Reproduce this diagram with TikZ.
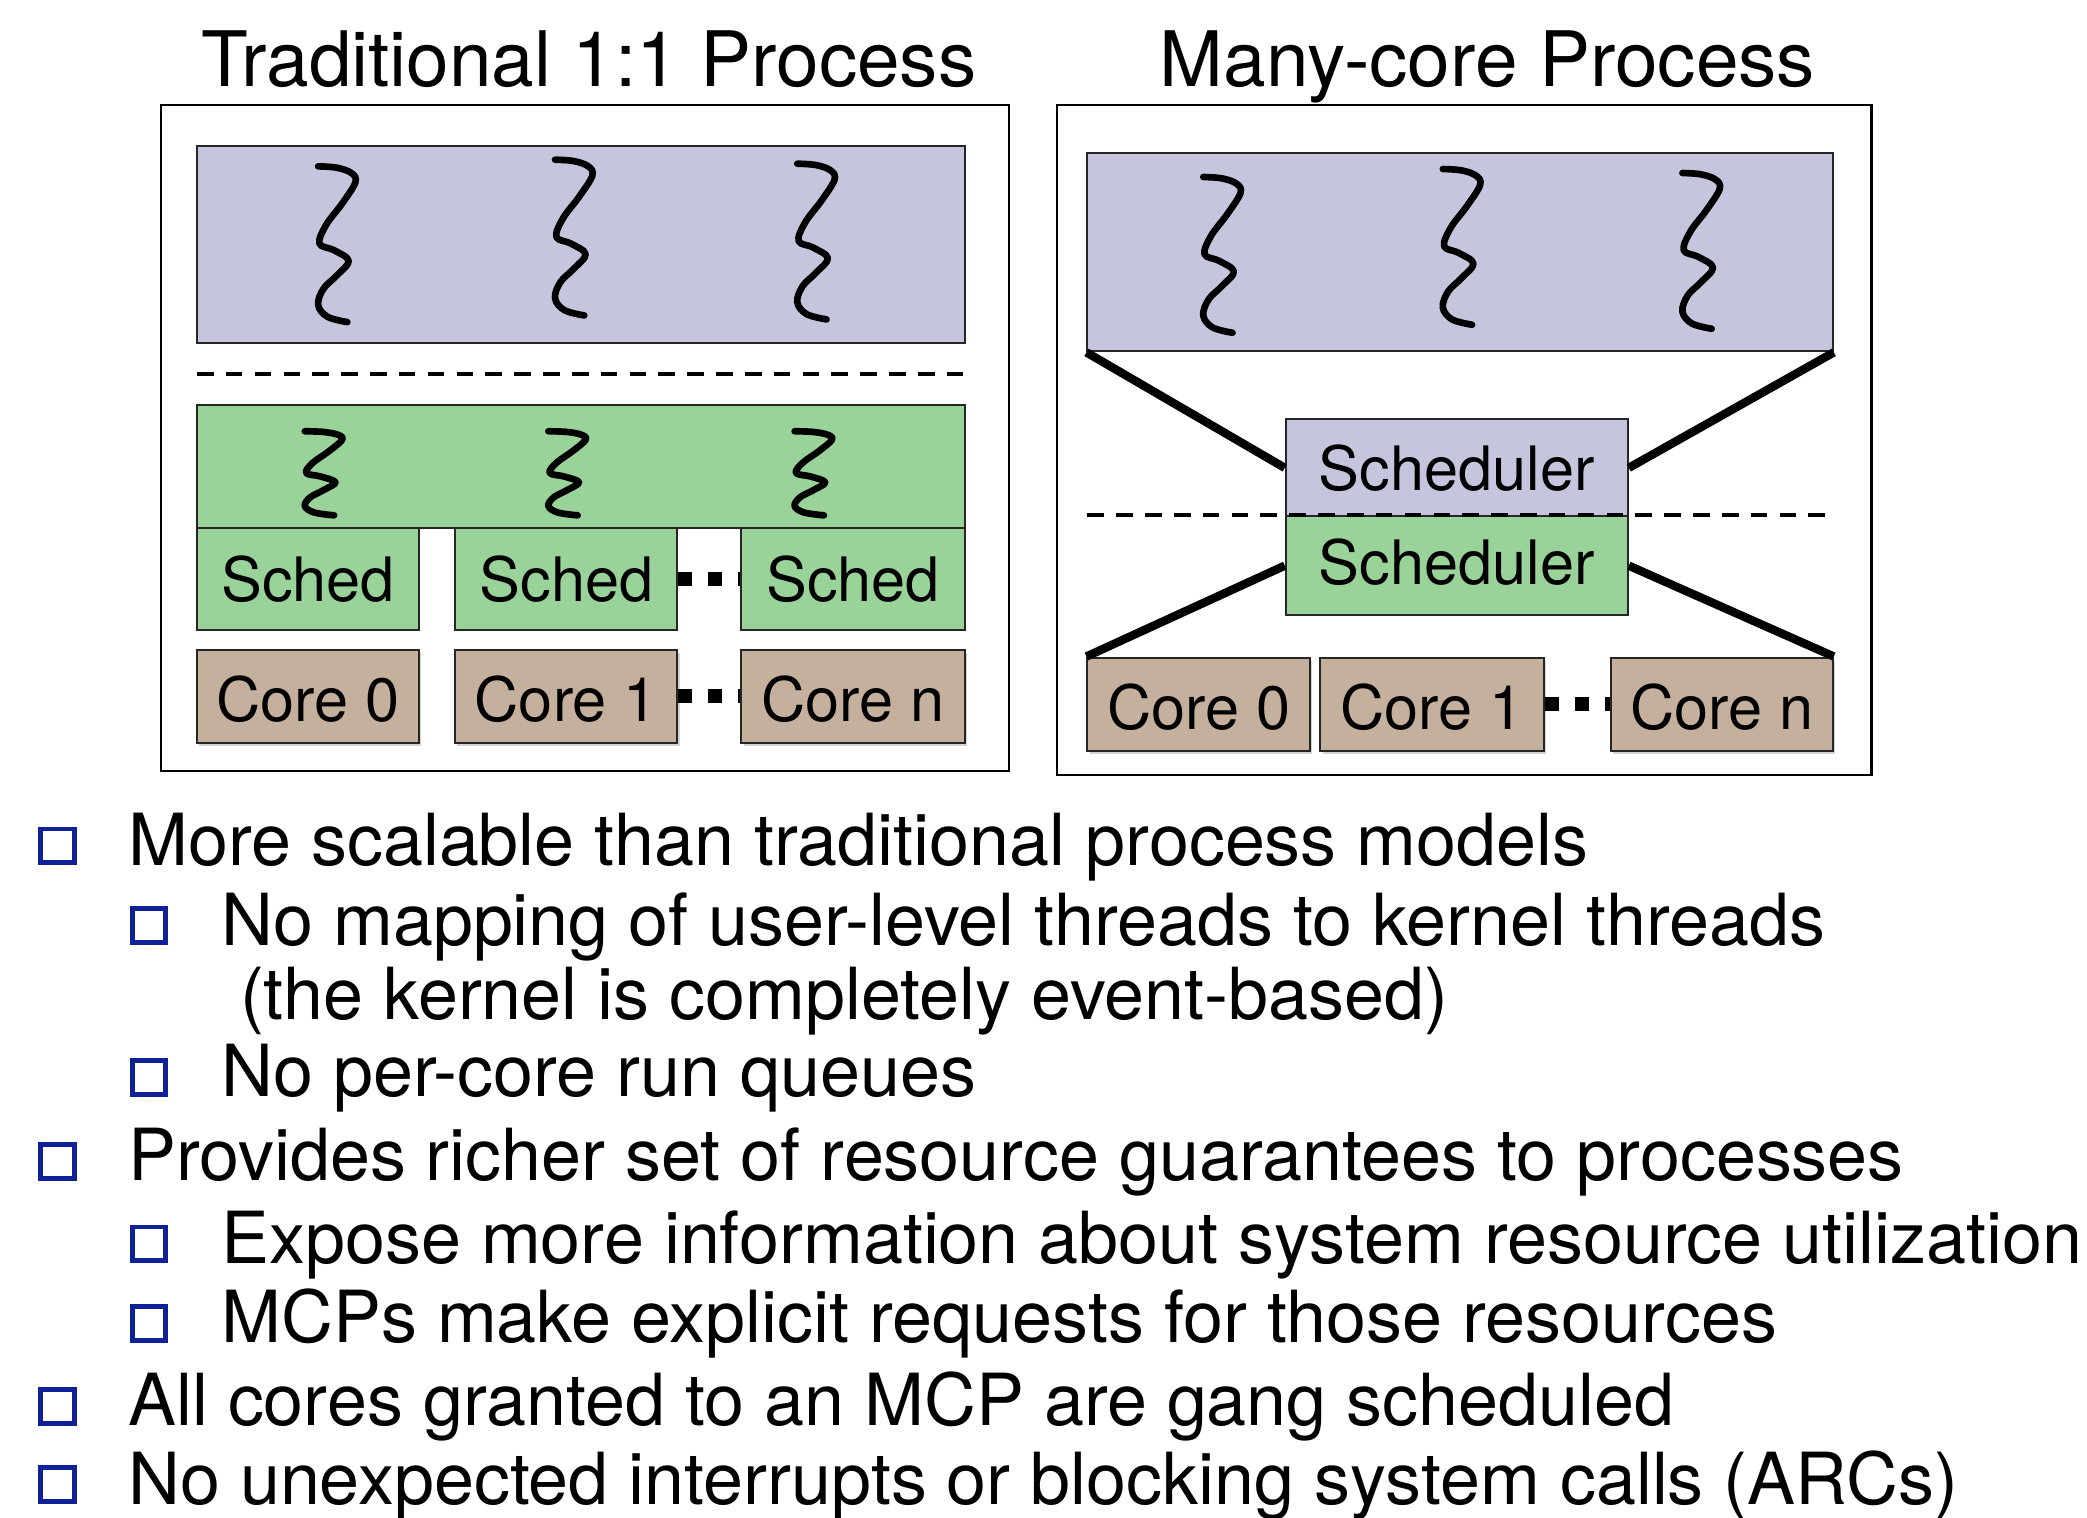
\documentclass[tikz,border=0pt]{standalone}
\usepackage{fontspec}
\setmainfont{TeX Gyre Heros}
\usetikzlibrary{fit,shadows}
\definecolor{upurple}{RGB}{197,198,221}
\definecolor{kgreen}{RGB}{153,211,153}
\definecolor{coretan}{RGB}{196,176,156}
\definecolor{bulletblue}{RGB}{16,32,150}
\tikzset{
  outerbox/.style={draw=black, line width=1pt, inner sep=0pt},
  ubox/.style={draw=black!85, line width=0.9pt, fill=upurple, inner sep=0pt},
  gbox/.style={draw=black!85, line width=0.9pt, fill=kgreen, inner sep=0pt},
  corebox/.style={draw=black!85, line width=0.9pt, fill=coretan, inner sep=0pt,
     drop shadow={shadow xshift=1pt, shadow yshift=-1.5pt, opacity=0.35}},
  boxlabel/.style={font=\fontsize{27.6pt}{30pt}\selectfont, inner sep=0pt},
  titletext/.style={font=\fontsize{34.5pt}{38pt}\selectfont, inner sep=0pt, anchor=base},
  btext/.style={font=\fontsize{32.4pt}{36pt}\selectfont, inner sep=0pt, anchor=base west},
  bsq/.style={draw=bulletblue, line width=2.2pt, minimum size=15.2pt, inner sep=0pt},
  thickline/.style={line width=3.8pt, black},
  dashline/.style={line width=1.7pt, black, dash pattern=on 7.5pt off 5.5pt},
  sqdots/.style={line width=6pt, black, dash pattern=on 6.3pt off 7.2pt},
  threadline/.style={line width=3pt, black, line cap=round, line join=round},
  thread/.pic={\draw[threadline] plot[smooth, tension=0.6] coordinates {(0,0) (14,1) (25,5) (28,12) (18,28) (6,44) (1,58) (12,63) (23,71) (14,82) (4,92) (0,104) (7,113) (22,117)};}
}
\begin{document}
\begin{tikzpicture}[x=0.6pt,y=-0.6pt]
\useasboundingbox (0,0) rectangle (1568,1140);

% ---------- Left panel ----------
\node[titletext] (lt) at (442.5,65) {Traditional 1:1 Process};
\node[outerbox, fit={(121,79)(758,579)}] (lout) {};
\node[ubox, fit={(148,110)(725,258)}] (lu) {};
\pic at (239,125) {thread};
\pic at (417,120) {thread};
\pic at (599,123) {thread};
\coordinate (ld1) at (148,281);
\coordinate (ld2) at (725,281);
\draw[dashline] (ld1) -- (ld2);
\node[gbox, fit={(148,304)(725,397)}] (lg) {};
\pic[yscale=0.54] at (229,324) {thread};
\pic[yscale=0.54] at (412,324) {thread};
\pic[yscale=0.54] at (597,324) {thread};
\node[gbox, fit={(148,397)(315,473)}] (ls1) {};
\node[gbox, fit={(342,397)(509,473)}] (ls2) {};
\node[gbox, fit={(557,397)(725,473)}] (ls3) {};
\node[boxlabel] (ls1t) at (ls1.center) {Sched};
\node[boxlabel] (ls2t) at (ls2.center) {Sched};
\node[boxlabel] (ls3t) at (ls3.center) {Sched};
\draw[sqdots] (ls2.east) -- (ls3.west);
\node[corebox, fit={(148,488)(315,558)}] (lc0) {};
\node[corebox, fit={(342,488)(509,558)}] (lc1) {};
\node[corebox, fit={(557,488)(725,558)}] (lcn) {};
\node[boxlabel] (lc0t) at ([yshift=-1.5pt]lc0.center) {Core 0};
\node[boxlabel] (lc1t) at ([yshift=-1.5pt]lc1.center) {Core 1};
\node[boxlabel] (lcnt) at ([yshift=-1.5pt]lcn.center) {Core n};
\draw[sqdots] (lc1.east) -- (lcn.west);

% ---------- Right panel ----------
\node[titletext] (rt) at (1117.5,65) {Many-core Process};
\node[outerbox, fit={(794,79)(1406,582)}] (rout) {};
\node[ubox, fit={(817,115)(1377,264)}] (ru) {};
\pic at (904,133) {thread};
\pic at (1084,127) {thread};
\pic at (1264,130) {thread};
\node[ubox, fit={(966,315)(1223,388)}] (rsp) {};
\node[gbox, fit={(966,388)(1223,462)}] (rsg) {};
\node[boxlabel] (rspt) at (rsp.center) {Scheduler};
\node[boxlabel] (rsgt) at ([yshift=1.5pt]rsg.center) {Scheduler};
\coordinate (rd1) at (817,387);
\coordinate (rd2) at (1377,387);
\draw[dashline] (rd1) -- (rd2);
\node[corebox, fit={(817,494)(984,564)}] (rc0) {};
\node[corebox, fit={(992,494)(1160,564)}] (rc1) {};
\node[corebox, fit={(1210,494)(1377,564)}] (rcn) {};
\node[boxlabel] (rc0t) at ([yshift=-1.5pt]rc0.center) {Core 0};
\node[boxlabel] (rc1t) at ([yshift=-1.5pt]rc1.center) {Core 1};
\node[boxlabel] (rcnt) at ([yshift=-1.5pt]rcn.center) {Core n};
\draw[sqdots] (rc1.east) -- (rcn.west);
\draw[thickline] (ru.south west) -- (rsp.west);
\draw[thickline] (ru.south east) -- (rsp.east);
\draw[thickline] (rsg.west) -- (rc0.north west);
\draw[thickline] (rsg.east) -- (rcn.north east);

% ---------- Bullets ----------
\node[bsq] (b1) at (43,635.5) {};
\node[btext] (t1) at (96,650) {More scalable than traditional process models};
\node[bsq] (b2) at (112,695.5) {};
\node[btext] (t2) at (166,710) {No mapping of user-level threads to kernel threads};
\node[btext] (t2b) at (180,766) {(the kernel is completely event-based)};
\node[bsq] (b3) at (112,809.5) {};
\node[btext] (t3) at (166,824) {No per-core run queues};
\node[bsq] (b4) at (43,872.5) {};
\node[btext] (t4) at (96,887) {Provides richer set of resource guarantees to processes};
\node[bsq] (b5) at (112,934.5) {};
\node[btext] (t5) at (166,949) {Expose more information about system resource utilization};
\node[bsq] (b6) at (112,994.5) {};
\node[btext] (t6) at (166,1009) {MCPs make explicit requests for those resources};
\node[bsq] (b7) at (43,1056.5) {};
\node[btext] (t7) at (96,1071) {All cores granted to an MCP are gang scheduled};
\node[bsq] (b8) at (43,1115.5) {};
\node[btext] (t8) at (96,1130) {No unexpected interrupts or blocking system calls (ARCs)};
\end{tikzpicture}
\end{document}
